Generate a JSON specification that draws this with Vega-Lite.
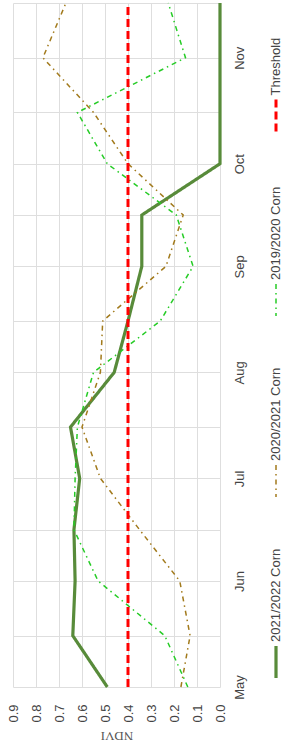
{
  "$schema": "https://vega.github.io/schema/vega-lite/v6.json",
  "width": 207,
  "height": 684,
  "autosize": {"type": "none"},
  "padding": {"left": 13, "top": 3, "right": 67, "bottom": 62},
  "background": "white",
  "title": {"text": "Change in NDVI", "orient": "left", "anchor": "middle", "frame": "group", "offset": 4, "baseline": "alphabetic", "font": "Liberation Sans", "fontSize": 19, "fontWeight": "normal", "color": "#444", "dx": -12},
  "config": {
    "view": {"stroke": null},
    "axis": {"domain": false, "ticks": false, "tickSize": 0, "gridColor": "#dedede", "gridWidth": 1, "labelFont": "Liberation Sans", "labelFontSize": 13, "labelColor": "#444", "labelFlush": false, "labelOverlap": false, "labelBound": false}
  },
  "data": {"values": [
    {"series": "2021/2022 Corn", "date": "2022-05-01", "ndvi": 0.49},
    {"series": "2021/2022 Corn", "date": "2022-05-16", "ndvi": 0.64},
    {"series": "2021/2022 Corn", "date": "2022-06-01", "ndvi": 0.63},
    {"series": "2021/2022 Corn", "date": "2022-06-16", "ndvi": 0.635},
    {"series": "2021/2022 Corn", "date": "2022-07-01", "ndvi": 0.61},
    {"series": "2021/2022 Corn", "date": "2022-07-16", "ndvi": 0.65},
    {"series": "2021/2022 Corn", "date": "2022-08-01", "ndvi": 0.46},
    {"series": "2021/2022 Corn", "date": "2022-08-16", "ndvi": 0.40},
    {"series": "2021/2022 Corn", "date": "2022-09-01", "ndvi": 0.34},
    {"series": "2021/2022 Corn", "date": "2022-09-16", "ndvi": 0.34},
    {"series": "2021/2022 Corn", "date": "2022-10-01", "ndvi": 0.0},
    {"series": "2021/2022 Corn", "date": "2022-10-16", "ndvi": 0.0},
    {"series": "2021/2022 Corn", "date": "2022-11-01", "ndvi": 0.0},
    {"series": "2021/2022 Corn", "date": "2022-11-17", "ndvi": 0.0},
    {"series": "2020/2021 Corn", "date": "2022-05-01", "ndvi": 0.17},
    {"series": "2020/2021 Corn", "date": "2022-05-16", "ndvi": 0.13},
    {"series": "2020/2021 Corn", "date": "2022-06-01", "ndvi": 0.175},
    {"series": "2020/2021 Corn", "date": "2022-06-16", "ndvi": 0.35},
    {"series": "2020/2021 Corn", "date": "2022-07-01", "ndvi": 0.52},
    {"series": "2020/2021 Corn", "date": "2022-07-16", "ndvi": 0.60},
    {"series": "2020/2021 Corn", "date": "2022-08-01", "ndvi": 0.52},
    {"series": "2020/2021 Corn", "date": "2022-08-16", "ndvi": 0.51},
    {"series": "2020/2021 Corn", "date": "2022-09-01", "ndvi": 0.235},
    {"series": "2020/2021 Corn", "date": "2022-09-16", "ndvi": 0.16},
    {"series": "2020/2021 Corn", "date": "2022-10-01", "ndvi": 0.40},
    {"series": "2020/2021 Corn", "date": "2022-10-16", "ndvi": 0.55},
    {"series": "2020/2021 Corn", "date": "2022-11-01", "ndvi": 0.77},
    {"series": "2020/2021 Corn", "date": "2022-11-17", "ndvi": 0.67},
    {"series": "2019/2020 Corn", "date": "2022-05-01", "ndvi": 0.14},
    {"series": "2019/2020 Corn", "date": "2022-05-16", "ndvi": 0.24},
    {"series": "2019/2020 Corn", "date": "2022-06-01", "ndvi": 0.53},
    {"series": "2019/2020 Corn", "date": "2022-06-16", "ndvi": 0.635},
    {"series": "2019/2020 Corn", "date": "2022-07-01", "ndvi": 0.63},
    {"series": "2019/2020 Corn", "date": "2022-07-16", "ndvi": 0.62},
    {"series": "2019/2020 Corn", "date": "2022-08-01", "ndvi": 0.55},
    {"series": "2019/2020 Corn", "date": "2022-08-16", "ndvi": 0.26},
    {"series": "2019/2020 Corn", "date": "2022-09-01", "ndvi": 0.117},
    {"series": "2019/2020 Corn", "date": "2022-09-16", "ndvi": 0.19},
    {"series": "2019/2020 Corn", "date": "2022-10-01", "ndvi": 0.49},
    {"series": "2019/2020 Corn", "date": "2022-10-16", "ndvi": 0.62},
    {"series": "2019/2020 Corn", "date": "2022-11-01", "ndvi": 0.15},
    {"series": "2019/2020 Corn", "date": "2022-11-17", "ndvi": 0.225},
    {"series": "Threshold", "date": "2022-05-01", "ndvi": 0.4},
    {"series": "Threshold", "date": "2022-11-17", "ndvi": 0.4}
  ]},
  "mark": {"type": "line"},
  "encoding": {
    "x": {
      "field": "ndvi", "type": "quantitative",
      "scale": {"domain": [0, 0.9], "reverse": true, "nice": false, "zero": false},
      "axis": {
        "values": [0, 0.1, 0.2, 0.3, 0.4, 0.5, 0.6, 0.7, 0.8, 0.9],
        "format": ".1f", "labelAngle": -90, "labelAlign": "right", "labelBaseline": "middle", "labelPadding": 17,
        "title": "NDVI", "titleAngle": 180, "titleBaseline": "bottom", "titleFont": "Liberation Serif", "titleFontSize": 13, "titleFontWeight": "normal", "titleColor": "#555", "titlePadding": 6, "grid": true
      }
    },
    "y": {
      "field": "date", "type": "temporal",
      "scale": {"type": "utc", "domain": [{"year": 2022, "month": 5, "date": 1, "utc": true}, {"year": 2022, "month": 11, "date": 17, "utc": true}]},
      "axis": {
        "orient": "right",
        "values": [
          {"year": 2022, "month": 5, "date": 1, "utc": true}, {"year": 2022, "month": 5, "date": 16, "utc": true},
          {"year": 2022, "month": 6, "date": 1, "utc": true}, {"year": 2022, "month": 6, "date": 16, "utc": true},
          {"year": 2022, "month": 7, "date": 1, "utc": true}, {"year": 2022, "month": 7, "date": 16, "utc": true},
          {"year": 2022, "month": 8, "date": 1, "utc": true}, {"year": 2022, "month": 8, "date": 16, "utc": true},
          {"year": 2022, "month": 9, "date": 1, "utc": true}, {"year": 2022, "month": 9, "date": 16, "utc": true},
          {"year": 2022, "month": 10, "date": 1, "utc": true}, {"year": 2022, "month": 10, "date": 16, "utc": true},
          {"year": 2022, "month": 11, "date": 1, "utc": true}, {"year": 2022, "month": 11, "date": 17, "utc": true}
        ],
        "labelExpr": "utcdate(datum.value) == 1 ? utcFormat(datum.value, '%b') : ''",
        "labelAngle": -90, "labelAlign": "center", "labelBaseline": "top", "labelPadding": 13,
        "title": null, "grid": true
      }
    },
    "color": {
      "field": "series", "type": "nominal",
      "scale": {"domain": ["Threshold", "2019/2020 Corn", "2020/2021 Corn", "2021/2022 Corn"], "range": ["#ff0000", "#26cc26", "#a27a1c", "#588b3a"]},
      "legend": {
        "title": null, "orient": "none", "legendX": 245, "legendY": 95, "direction": "vertical",
        "symbolType": "M0,-1L0,1", "symbolSize": 1024, "symbolFillColor": "transparent",
        "labelAlign": "left", "labelBaseline": "middle", "labelOffset": -18,
        "labelFont": "Liberation Sans", "labelFontSize": 13, "labelColor": "#444", "labelLimit": 300,
        "rowPadding": 48, "padding": 0,
        "encoding": {"labels": {"angle": {"value": -90}, "dx": {"value": 20}}}
      }
    },
    "strokeDash": {
      "field": "series", "type": "nominal",
      "scale": {"domain": ["Threshold", "2019/2020 Corn", "2020/2021 Corn", "2021/2022 Corn"], "range": [[8, 4], [5, 4, 1.5, 4], [5, 4, 1.5, 4], [1, 0]]}
    },
    "strokeWidth": {
      "field": "series", "type": "nominal",
      "scale": {"type": "ordinal", "domain": ["Threshold", "2019/2020 Corn", "2020/2021 Corn", "2021/2022 Corn"], "range": [3, 1.5, 1.5, 3.2]}
    },
    "order": {"field": "date", "type": "temporal"}
  }
}
